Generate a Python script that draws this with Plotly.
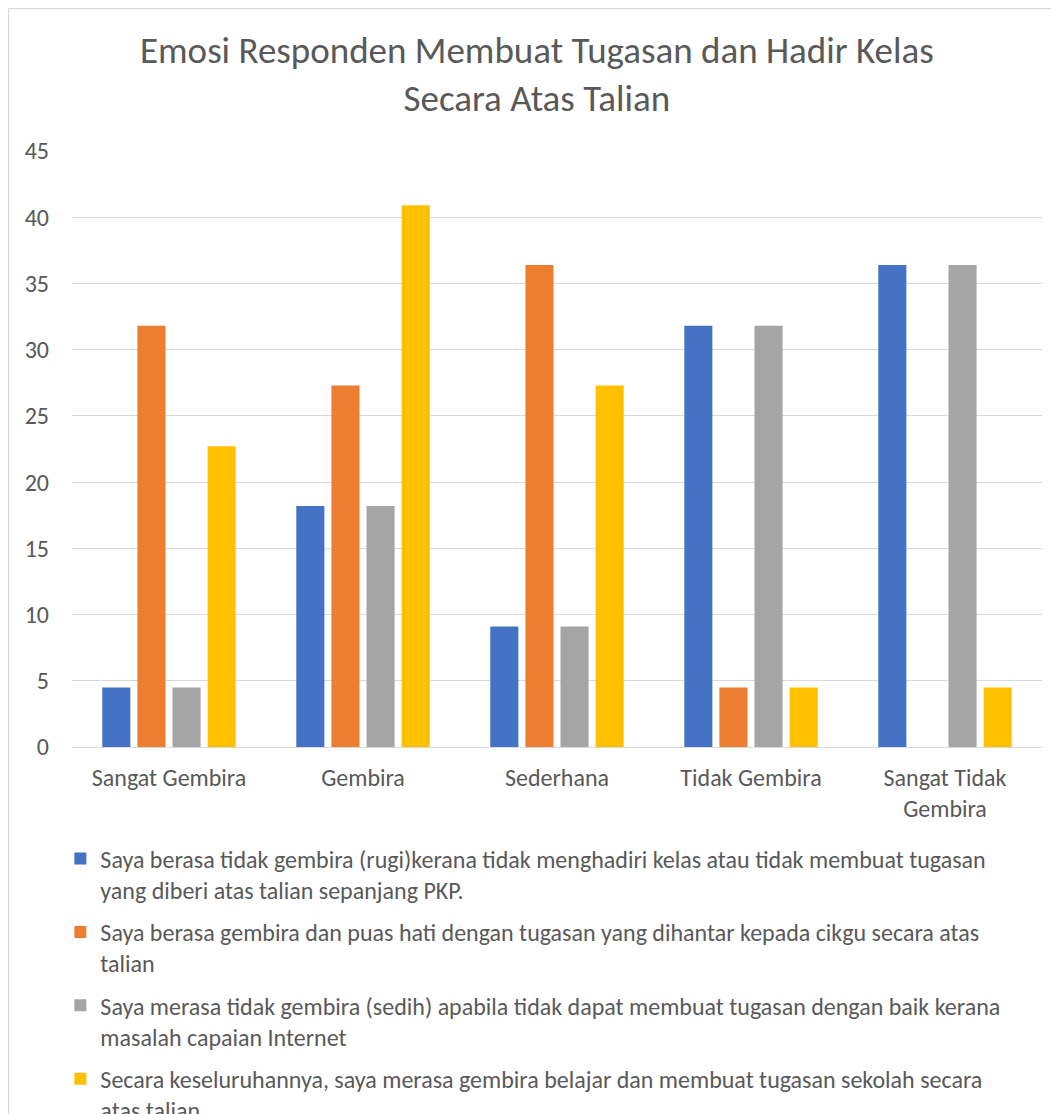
import plotly.graph_objects as go

categories = ["Sangat Gembira", "Gembira", "Sederhana", "Tidak Gembira", "Sangat Tidak<br>Gembira"]
series_names = [
    "Saya berasa tidak gembira (rugi)kerana tidak menghadiri kelas atau tidak membuat tugasan<br>yang diberi atas talian sepanjang PKP.",
    "Saya berasa gembira dan puas hati dengan tugasan yang dihantar kepada cikgu secara atas<br>talian",
    "Saya merasa tidak gembira (sedih) apabila tidak dapat membuat tugasan dengan baik kerana<br>masalah capaian Internet",
    "Secara keseluruhannya, saya merasa gembira belajar dan membuat tugasan sekolah secara<br>atas talian",
]
blue_vals = [4.5, 18.2, 9.1, 31.8, 36.4]
orange_vals = [31.8, 27.3, 36.4, 4.5, 0]
gray_vals = [4.5, 18.2, 9.1, 31.8, 36.4]
yellow_vals = [22.7, 40.9, 27.3, 4.5, 4.5]
colors = ["#4472C4", "#ED7D31", "#A5A5A5", "#FFC000"]
y_ticks = [0, 5, 10, 15, 20, 25, 30, 35, 40, 45]
title_text = "Emosi Responden Membuat Tugasan dan Hadir Kelas<br>Secara Atas Talian"

FONT = "Carlito, Lato, 'Open Sans', sans-serif"
TXT = "#595959"

fig = go.Figure()
for i, vals in enumerate([blue_vals, orange_vals, gray_vals, yellow_vals]):
    fig.add_trace(go.Bar(
        x=categories, y=vals, name=series_names[i],
        marker=dict(color=colors[i], line=dict(width=0)),
        legendgroup=f"g{i}", hoverinfo="y",
    ))

fig.update_layout(
    width=1051, height=1106,
    paper_bgcolor="white", plot_bgcolor="white",
    font=dict(family=FONT, color=TXT, size=24),
    margin=dict(l=64, r=17, t=143, b=367, autoexpand=False),
    barmode="group", bargap=0.276, bargroupgap=0.2,
    showlegend=True,
    legend=dict(
        x=-0.012, xanchor="left", y=-0.15, yanchor="top",
        orientation="v", traceorder="grouped", tracegroupgap=8,
        valign="top", font=dict(family=FONT, size=24, color=TXT),
        bgcolor="rgba(0,0,0,0)",
    ),
    xaxis=dict(
        showgrid=False, showline=True, linecolor="#d9d9d9", linewidth=1,
        ticks="", tickfont=dict(size=24, color=TXT), ticklabelstandoff=9,
    ),
    yaxis=dict(
        range=[0, 45], tickvals=y_ticks, showgrid=True, gridcolor="#d9d9d9",
        gridwidth=1, zeroline=False, showline=False, ticks="",
        tickfont=dict(size=24, color=TXT), ticklabelstandoff=22,
    ),
    annotations=[
        dict(text=title_text, xref="paper", yref="paper", x=0.479, y=1.128,
             xanchor="center", yanchor="middle", showarrow=False,
             font=dict(family=FONT, size=37, color=TXT)),
    ],
    shapes=[
        dict(type="line", xref="paper", yref="paper", x0=-0.0655, x1=1.03, y0=1.239, y1=1.239,
             line=dict(color="#d9d9d9", width=1.5)),
        dict(type="line", xref="paper", yref="paper", x0=-0.0655, x1=-0.0655, y0=1.239, y1=-0.7,
             line=dict(color="#d9d9d9", width=1.5)),
    ],
)

fig.write_html("out.html")
